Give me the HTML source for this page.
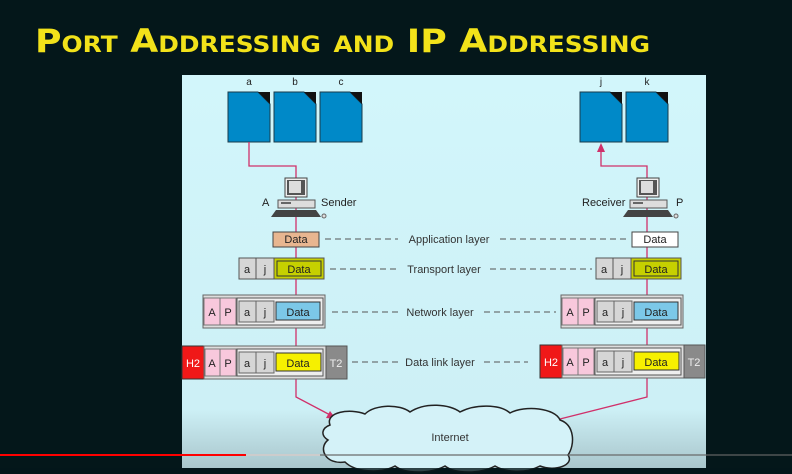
<!DOCTYPE html>
<html><head><meta charset="utf-8"><style>
html,body{margin:0;padding:0;background:#04171a;width:792px;height:474px;overflow:hidden}
svg{display:block}
text{font-family:"Liberation Sans",sans-serif}
</style></head><body>
<svg width="792" height="474" viewBox="0 0 792 474" xmlns="http://www.w3.org/2000/svg">
<rect width="792" height="474" fill="#04171a"/>
<text x="35" y="52" fill="#f2e21a" font-size="32" font-weight="bold" font-variant="small-caps" textLength="615" lengthAdjust="spacingAndGlyphs" style="font-family:'DejaVu Sans',sans-serif">Port Addressing and IP Addressing</text>
<defs><linearGradient id="bg" x1="0" y1="0" x2="0" y2="1"><stop offset="0" stop-color="#d2f6fb"/><stop offset="0.85" stop-color="#cdf0f6"/><stop offset="1" stop-color="#a9c6cc"/></linearGradient>
<g id="seg">
<rect x="0" y="0" width="17" height="21" fill="#d6d6d6" stroke="#555"/>
<rect x="17" y="0" width="18" height="21" fill="#d6d6d6" stroke="#555"/>
</g>
</defs>
<rect x="182" y="75" width="524" height="393" fill="url(#bg)"/>
<g font-size="10" fill="#222" text-anchor="middle">
<text x="249" y="85">a</text><text x="295" y="85">b</text><text x="341" y="85">c</text>
<text x="601" y="85">j</text><text x="647" y="85">k</text>
</g>
<g fill="#0089c8" stroke="#1a3a4a" stroke-width="1">
<path d="M228,92 H258 L270,104 V142 H228Z"/><path d="M274,92 H304 L316,104 V142 H274Z"/><path d="M320,92 H350 L362,104 V142 H320Z"/>
<path d="M580,92 H610 L622,104 V142 H580Z"/><path d="M626,92 H656 L668,104 V142 H626Z"/>
</g>
<g fill="#111"><path d="M258,92 H270 V104Z"/><path d="M304,92 H316 V104Z"/><path d="M350,92 H362 V104Z"/><path d="M610,92 H622 V104Z"/><path d="M656,92 H668 V104Z"/></g>
<g stroke="#d0306a" stroke-width="1.3" fill="none">
<path d="M249,142 V166 H296 V397 L334,417"/>
<path d="M601,150 V166 H647 V397 L556,420"/>
</g>
<path d="M601,143 L597,152 H605Z" fill="#d0306a"/>
<path d="M336,419 L326,418 L330,411Z" fill="#d0306a"/>
<g id="pc">
<rect x="285" y="178" width="22" height="19" fill="#eee" stroke="#444"/><rect x="287" y="180" width="18" height="15" fill="#555"/><rect x="289" y="181" width="12" height="12" fill="#ddd"/>
<rect x="278" y="200" width="37" height="8" fill="#ddd" stroke="#555"/><rect x="281" y="202" width="10" height="2" fill="#666"/>
<path d="M276,210 H316 L321,217 H271Z" fill="#444"/><circle cx="324" cy="216" r="2" fill="#ddd" stroke="#666"/>
</g>
<use href="#pc" transform="translate(352,0)"/>
<text x="262" y="206" font-size="11" fill="#222">A</text>
<text x="321" y="206" font-size="11" fill="#222">Sender</text>
<text x="582" y="206" font-size="11" fill="#222">Receiver</text>
<text x="676" y="206" font-size="11" fill="#222">P</text>
<rect x="273" y="232" width="46" height="15" fill="#e8b690" stroke="#444"/>
<rect x="632" y="232" width="46" height="15" fill="#fff" stroke="#444"/>
<g font-size="11" fill="#222" text-anchor="middle">
<text x="296" y="243">Data</text><text x="655" y="243">Data</text>
</g>
<g stroke="#555" stroke-dasharray="6,4" stroke-width="1">
<line x1="325" y1="239" x2="398" y2="239"/><line x1="500" y1="239" x2="628" y2="239"/>
<line x1="330" y1="269" x2="398" y2="269"/><line x1="490" y1="269" x2="592" y2="269"/>
<line x1="332" y1="312" x2="398" y2="312"/><line x1="484" y1="312" x2="556" y2="312"/>
<line x1="352" y1="362" x2="398" y2="362"/><line x1="484" y1="362" x2="528" y2="362"/>
</g>
<g font-size="11" fill="#333" text-anchor="middle">
<text x="449" y="243">Application layer</text>
<text x="444" y="273">Transport layer</text>
<text x="440" y="316">Network layer</text>
<text x="440" y="366">Data link layer</text>
</g>
<g font-size="11" fill="#222" text-anchor="middle">
<use href="#seg" transform="translate(239,258)"/>
<rect x="274" y="258" width="50" height="21" fill="#c6d000" stroke="#555"/><rect x="277" y="261" width="44" height="15" fill="none" stroke="#333"/>
<text x="247" y="273">a</text><text x="265" y="273">j</text><text x="299" y="273">Data</text>
<use href="#seg" transform="translate(596,258)"/>
<rect x="631" y="258" width="50" height="21" fill="#c6d000" stroke="#555"/><rect x="634" y="261" width="44" height="15" fill="none" stroke="#333"/>
<text x="604" y="273">a</text><text x="622" y="273">j</text><text x="656" y="273">Data</text>
</g>
<g id="net" font-size="11" fill="#222" text-anchor="middle">
<rect x="203" y="295" width="122" height="33" fill="#ddd" stroke="#666"/>
<rect x="204" y="298" width="16" height="27" fill="#f8c8dc" stroke="#777"/>
<rect x="220" y="298" width="16" height="27" fill="#f8c8dc" stroke="#777"/>
<rect x="237" y="298" width="86" height="27" fill="#eee" stroke="#555"/>
<rect x="239" y="301" width="17" height="21" fill="#d6d6d6" stroke="#666"/>
<rect x="256" y="301" width="18" height="21" fill="#d6d6d6" stroke="#666"/>
<rect x="276" y="302" width="44" height="18" fill="#7cc8e8" stroke="#333"/>
<text x="212" y="316">A</text><text x="228" y="316">P</text><text x="247" y="316">a</text><text x="265" y="316">j</text><text x="298" y="316">Data</text>
</g>
<use href="#net" transform="translate(358,0)"/>
<g id="dl" font-size="11" text-anchor="middle">
<rect x="182" y="346" width="22" height="33" fill="#f01818" stroke="#333"/>
<rect x="204" y="346" width="122" height="33" fill="#ddd" stroke="#666"/>
<rect x="205" y="349" width="15" height="27" fill="#f8c8dc" stroke="#777"/>
<rect x="220" y="349" width="16" height="27" fill="#f8c8dc" stroke="#777"/>
<rect x="237" y="349" width="86" height="27" fill="#eee" stroke="#555"/>
<rect x="239" y="352" width="17" height="21" fill="#d6d6d6" stroke="#666"/>
<rect x="256" y="352" width="18" height="21" fill="#d6d6d6" stroke="#666"/>
<rect x="276" y="353" width="45" height="18" fill="#f6f000" stroke="#333"/>
<rect x="326" y="346" width="21" height="33" fill="#8a8a8a" stroke="#555"/>
<g fill="#222"><text x="212" y="367">A</text><text x="228" y="367">P</text><text x="247" y="367">a</text><text x="265" y="367">j</text><text x="298" y="367">Data</text></g>
<text x="193" y="367" fill="#fff">H2</text><text x="336" y="367" fill="#eee">T2</text>
</g>
<use href="#dl" transform="translate(358,-1)"/>
<path d="M330,425 C325,412 350,408 365,414 C375,404 400,404 410,412 C425,402 450,404 460,412 C475,404 500,404 510,413 C525,405 555,408 560,420 C575,425 575,445 568,455 C575,465 555,472 540,466 C525,474 505,472 495,466 C480,474 455,474 445,466 C430,474 405,474 395,466 C380,474 355,472 345,462 C325,465 318,448 328,440 C320,435 322,428 330,425Z" fill="#d4f2f8" stroke="#222" stroke-width="1.5"/>
<text x="450" y="441" font-size="11" fill="#333" text-anchor="middle">Internet</text>
<rect x="0" y="454" width="792" height="2" fill="#666" opacity="0.6"/>
<rect x="0" y="454" width="320" height="2" fill="#ccc"/>
<rect x="0" y="454" width="246" height="2" fill="#f00"/>
<rect x="0" y="468" width="792" height="6" fill="#04171a" opacity="0.8"/>
</svg>
</body></html>
